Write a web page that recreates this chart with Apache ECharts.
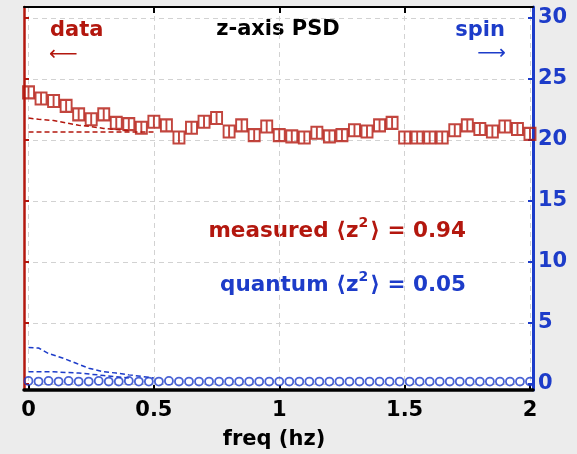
<!DOCTYPE html>
<html>
<head>
<meta charset="utf-8">
<script src="https://cdn.jsdelivr.net/npm/echarts@6/dist/echarts.min.js"></script>
<style>
html,body{margin:0;padding:0;background:#ececec;}
#chart{width:577px;height:454px;}
</style>
</head>
<body>
<div id="chart"></div>
<script>
// ---- data ----
var freq = [0,0.05,0.1,0.15,0.2,0.25,0.3,0.35,0.4,0.45,0.5,0.55,0.6,0.65,0.7,0.75,0.8,0.85,0.9,0.95,1.0,
            1.05,1.1,1.15,1.2,1.25,1.3,1.35,1.4,1.45,1.5,1.55,1.6,1.65,1.7,1.75,1.8,1.85,1.9,1.95,2.0];
var measured = [23.9,23.4,23.2,22.8,22.1,21.7,22.1,21.4,21.3,21.0,21.5,21.2,20.2,21.0,21.5,21.8,20.7,21.2,20.4,21.1,20.4,
                20.3,20.2,20.6,20.3,20.4,20.8,20.7,21.2,21.4,20.2,20.2,20.2,20.2,20.8,21.2,20.9,20.7,21.1,20.9,20.5];
var measFitUpperX = [0,0.04,0.1,0.15,0.2,0.25,0.3,0.35,0.4];
var measFitUpper  = [21.8,21.7,21.6,21.4,21.2,21.1,20.95,20.85,20.75];
var measFitLowerX = [0,0.5];
var measFitLower  = [20.65,20.65];

var spinFreq = [0,0.04,0.08,0.12,0.16,0.2,0.24,0.28,0.32,0.36,0.4,0.44,0.48,0.52,0.56,0.6,0.64,0.68,0.72,0.76,0.8,
                0.84,0.88,0.92,0.96,1.0,1.04,1.08,1.12,1.16,1.2,1.24,1.28,1.32,1.36,1.4,1.44,1.48,1.52,1.56,1.6,
                1.64,1.68,1.72,1.76,1.8,1.84,1.88,1.92,1.96,2.0];
var quantum = [0.25,0.2,0.25,0.2,0.25,0.2,0.2,0.25,0.2,0.2,0.25,0.2,0.2,0.2,0.25,0.2,0.2,0.2,0.2,0.2,0.2,
               0.2,0.2,0.2,0.2,0.2,0.2,0.2,0.2,0.2,0.2,0.2,0.2,0.2,0.2,0.2,0.2,0.2,0.2,0.2,0.2,
               0.2,0.2,0.2,0.2,0.2,0.2,0.2,0.2,0.2,0.2];
var quantFitUpperX = [0,0.04,0.08,0.14,0.19,0.24,0.3,0.35,0.4,0.5];
var quantFitUpper  = [3.0,2.95,2.5,2.1,1.7,1.3,1.0,0.9,0.75,0.5];
var quantFitLowerX = [0,0.1,0.2,0.3,0.4];
var quantFitLower  = [1.0,1.0,0.9,0.7,0.5];

var xTicks = [0,0.5,1,1.5,2];
var xTickLabels = ['0','0.5','1','1.5','2'];
var yTicks = [0,5,10,15,20,25,30];

// ---- styles ----
var RED = '#b3170e', BLUE = '#1d3cc9', FONT = 'DejaVu Sans';
function zip(a,b){ return a.map(function(v,i){ return [v,b[i]]; }); }

function annot(x, y, pre, post, color){
  return {type:'text', x:x, y:y, style:{text:'{a|'+pre+'}{s|2}{a|'+post+'}', fill:color, align:'right', verticalAlign:'middle',
    rich:{a:{fill:color,fontFamily:FONT,fontWeight:'bold',fontSize:21.5,lineHeight:26,verticalAlign:'bottom'},
          s:{fill:color,fontFamily:FONT,fontWeight:'bold',fontSize:14,lineHeight:14,verticalAlign:'top',padding:[0,2,0,0]}}}};
}

var chart = echarts.init(document.getElementById('chart'), null, {renderer:'canvas'});
chart.setOption({
  animation:false,
  backgroundColor:'#ececec',
  grid:{left:24,right:44,top:7,bottom:64,show:true,backgroundColor:'#ffffff',borderWidth:0},
  xAxis:[{
    type:'value', position:'bottom', min:-0.018, max:2.012,
    axisLine:{show:true,onZero:false,lineStyle:{color:'#000',width:3.5}},
    axisTick:{show:true,inside:true,length:5,customValues:xTicks,lineStyle:{color:'#000',width:2}},
    axisLabel:{show:true,customValues:xTicks,margin:10,color:'#000',fontFamily:FONT,fontWeight:'bold',fontSize:21,
      formatter:function(v){ var i = xTicks.indexOf(+v); return i>=0 ? xTickLabels[i] : ''; }},
    splitLine:{show:true,lineStyle:{color:'#d2d2d2',type:[5,4],width:1}}
  },{
    type:'value', position:'top', min:-0.018, max:2.012,
    axisLine:{show:true,onZero:false,lineStyle:{color:'#000',width:2}},
    axisTick:{show:true,inside:true,length:6,customValues:[0.5,1,1.5],lineStyle:{color:'#000',width:2}},
    axisLabel:{show:false}, splitLine:{show:false}
  }],
  yAxis:[{
    type:'value', position:'left', min:-0.49, max:30.9,
    axisLine:{show:true,onZero:false,lineStyle:{color:RED,width:2.5}},
    axisTick:{show:true,inside:true,length:5,customValues:yTicks,lineStyle:{color:RED,width:2}},
    axisLabel:{show:false},
    splitLine:{show:true,lineStyle:{color:'#d2d2d2',type:[5,4],width:1}}
  },{
    type:'value', position:'right', min:-0.49, max:30.9,
    axisLine:{show:true,onZero:false,lineStyle:{color:BLUE,width:3}},
    axisTick:{show:true,inside:true,length:5,customValues:yTicks,lineStyle:{color:BLUE,width:2}},
    axisLabel:{show:true,customValues:yTicks,margin:5,color:BLUE,fontFamily:FONT,fontWeight:'bold',fontSize:21},
    splitLine:{show:false}
  }],
  series:[
    {type:'line', yAxisIndex:0, data:zip(measFitUpperX,measFitUpper), showSymbol:false,
      lineStyle:{color:RED,width:1.5,type:[5,3]}},
    {type:'line', yAxisIndex:0, data:zip(measFitLowerX,measFitLower), showSymbol:false,
      lineStyle:{color:RED,width:1.5,type:[5,3]}},
    {type:'scatter', yAxisIndex:0, data:zip(freq,measured),
      symbol:'path://M0,0H10V12H0ZM5,0V12', symbolSize:[11,12],
      itemStyle:{color:'rgba(255,255,255,0)',borderColor:RED,borderWidth:2}},
    {type:'line', yAxisIndex:1, data:zip(quantFitUpperX,quantFitUpper), showSymbol:false,
      lineStyle:{color:BLUE,width:1.5,type:[5,3]}},
    {type:'line', yAxisIndex:1, data:zip(quantFitLowerX,quantFitLower), showSymbol:false,
      lineStyle:{color:BLUE,width:1.5,type:[5,3]}},
    {type:'scatter', yAxisIndex:1, data:zip(spinFreq,quantum),
      symbol:'circle', symbolSize:8,
      itemStyle:{color:'rgba(255,255,255,0)',borderColor:BLUE,borderWidth:1.8}}
  ],
  graphic:[
    {type:'text', x:50, y:31, style:{text:'data', fill:RED, fontFamily:FONT, fontWeight:'bold', fontSize:21, align:'left', verticalAlign:'middle'}},
    {type:'text', x:49, y:55, style:{text:'⟵', fill:RED, fontFamily:FONT, fontSize:20, align:'left', verticalAlign:'middle'}},
    {type:'text', x:278, y:30, style:{text:'z-axis PSD', fill:'#000', fontFamily:FONT, fontWeight:'bold', fontSize:21, align:'center', verticalAlign:'middle'}},
    {type:'text', x:505, y:31, style:{text:'spin', fill:BLUE, fontFamily:FONT, fontWeight:'bold', fontSize:21, align:'right', verticalAlign:'middle'}},
    {type:'text', x:506, y:54, style:{text:'⟶', fill:BLUE, fontFamily:FONT, fontSize:20, align:'right', verticalAlign:'middle'}},
    annot(466, 229, 'measured ⟨z', '⟩ = 0.94', RED),
    annot(466, 283, 'quantum ⟨z', '⟩ = 0.05', BLUE),
    {type:'text', x:274, y:440, style:{text:'freq (hz)', fill:'#000', fontFamily:FONT, fontWeight:'bold', fontSize:21, align:'center', verticalAlign:'middle'}}
  ]
});
</script>
</body>
</html>
